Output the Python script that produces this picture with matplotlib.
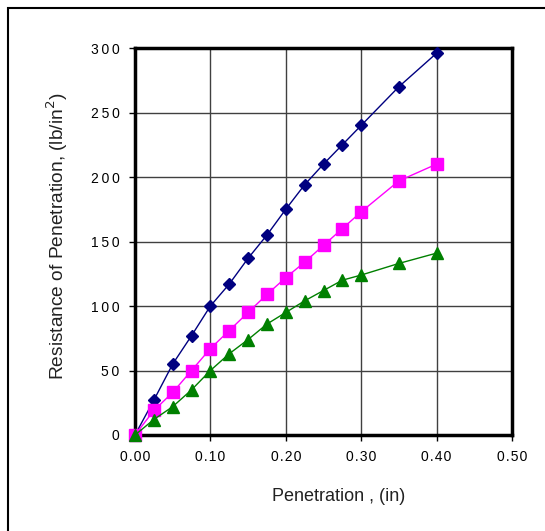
import matplotlib
matplotlib.use("Agg")
import matplotlib.pyplot as plt
from matplotlib.patches import Rectangle

penetration_a = [0.0, 0.025, 0.05, 0.075, 0.10, 0.125, 0.15, 0.175, 0.20, 0.225, 0.25, 0.275, 0.30, 0.35, 0.40]
resistance_high = [0, 27, 55, 77, 100, 117, 137, 155, 175, 194, 210, 225, 240, 270, 296]
resistance_mid = [0, 19, 33, 50, 67, 81, 95, 109, 122, 134, 147, 160, 173, 197, 210]
resistance_low = [0, 12, 22, 35, 50, 63, 74, 86, 95, 104, 112, 120, 124, 133, 141]

x_ticks = [0.0, 0.1, 0.2, 0.3, 0.4, 0.5]
y_ticks = [0, 50, 100, 150, 200, 250, 300]

plt.rcParams["font.family"] = ["Liberation Sans", "DejaVu Sans"]

fig = plt.figure(figsize=(5.45, 5.31), dpi=100)
fig.patches.append(Rectangle((8 / 545, -0.1), 1.2, 1 - 8 / 531 + 0.1,
                             transform=fig.transFigure, fill=False,
                             edgecolor="black", linewidth=1.5))

ax = fig.add_axes([135 / 545, 1 - 435 / 531, (512 - 135) / 545, (435 - 48) / 531])

ax.plot(penetration_a, resistance_high, color="#000080", marker="D", markersize=6,
        linewidth=1, clip_on=False, zorder=5)
ax.plot(penetration_a, resistance_mid, color="#FF00FF", marker="s", markersize=8,
        linewidth=1, clip_on=False, zorder=5)
ax.plot(penetration_a, resistance_low, color="#008000", marker="^", markersize=8,
        linewidth=1, clip_on=False, zorder=5)

ax.set_xlim(0, 0.5)
ax.set_ylim(0, 300)
ax.set_xticks(x_ticks)
ax.set_yticks(y_ticks)
ax.set_xticklabels(["\u200a".join(f"{v:.2f}") for v in x_ticks])
ax.set_yticklabels(["\u2009".join(str(v)) for v in y_ticks])
ax.grid(True, color="#404040", linewidth=1)
ax.set_axisbelow(True)
for s in ax.spines.values():
    s.set_linewidth(2.5)
    s.set_color("black")
ax.tick_params(axis="both", direction="out", length=4, width=1, labelsize=10,
               colors="black")
ax.tick_params(axis="y", pad=7)
ax.tick_params(axis="x", pad=7)

ax.set_xlabel("Penetration , (in)", fontsize=13, color="#222222", va="center")
ax.set_ylabel("Resistance of Penetration, (lb/in$^2$)", fontsize=13.8, color="#222222",
              va="center")
ax.xaxis.set_label_coords(0.541, -0.16)
ax.yaxis.set_label_coords(-0.207, 0.513)

fig.savefig("out.png", dpi=100)
